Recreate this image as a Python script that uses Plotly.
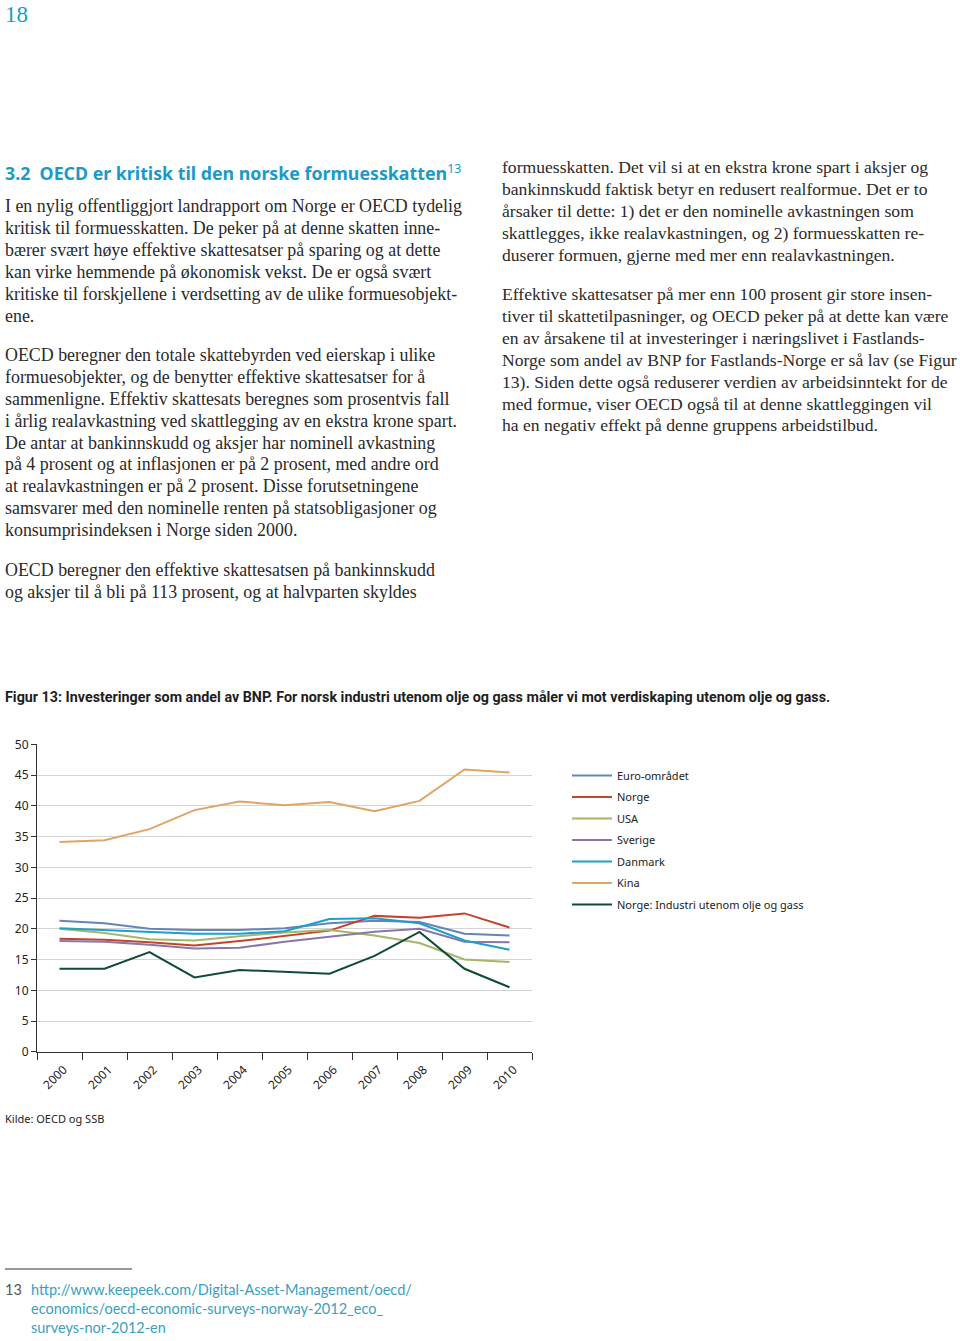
import plotly.graph_objects as go

W, H = 960, 1341

years = ["2000", "2001", "2002", "2003", "2004", "2005", "2006", "2007", "2008", "2009", "2010"]
euro = [21.3, 20.9, 20.0, 19.8, 19.8, 20.1, 20.9, 21.3, 21.1, 19.2, 18.9]
norge = [18.4, 18.2, 17.8, 17.3, 18.0, 18.9, 19.7, 22.1, 21.8, 22.5, 20.2]
usa = [20.0, 19.3, 18.3, 18.1, 18.8, 19.4, 19.8, 18.9, 17.7, 15.0, 14.6]
sverige = [18.0, 17.9, 17.4, 16.8, 16.9, 17.9, 18.7, 19.5, 20.0, 17.9, 17.8]
danmark = [20.1, 19.8, 19.5, 19.2, 19.2, 19.6, 21.6, 21.7, 20.9, 18.1, 16.6]
kina = [34.1, 34.4, 36.2, 39.3, 40.7, 40.1, 40.6, 39.1, 40.8, 45.9, 45.4]
norge_ind = [13.5, 13.5, 16.2, 12.1, 13.3, 13.0, 12.7, 15.6, 19.5, 13.5, 10.5]

series_names = ["Euro-området", "Norge", "USA", "Sverige", "Danmark", "Kina",
                "Norge: Industri utenom olje og gass"]
series_values = [euro, norge, usa, sverige, danmark, kina, norge_ind]
series_colors = ["#6485b6", "#c4432b", "#a5b66a", "#8a77a8", "#1d9fcb", "#e0a465", "#0f4d33"]

y_ticks = [0, 5, 10, 15, 20, 25, 30, 35, 40, 45, 50]


def px(x):
    return x / W


def py(y):
    return 1 - y / H


fig = go.Figure()
for name, vals, col in zip(series_names, series_values, series_colors):
    fig.add_trace(go.Scatter(x=years, y=vals, mode="lines", name=name,
                             legendgroup=name,
                             line=dict(color=col, width=2)))

chart_font = "Noto Sans"
fig.update_layout(
    width=W, height=H,
    margin=dict(l=0, r=0, t=0, b=0, pad=0, autoexpand=False),
    paper_bgcolor="white", plot_bgcolor="white",
    font=dict(family=chart_font, color="#222222", size=12),
    xaxis=dict(domain=[px(37), px(532)], type="category", tickson="boundaries",
               range=[-0.5, len(years) - 0.5],
               ticks="outside", ticklen=7, tickcolor="#333333", tickwidth=1.2,
               showline=True, linecolor="#333333", linewidth=1.2, automargin=False,
               showgrid=False, tickangle=-45, tickfont=dict(size=12),
               ticklabelshift=4, ticklabelstandoff=5),
    yaxis=dict(domain=[py(1051.8), py(744.3)], range=[0, 50], tickvals=y_ticks,
               ticks="outside", ticklen=5, tickcolor="#333333", automargin=False,
               showline=True, linecolor="#333333", linewidth=1.2,
               showgrid=True, gridcolor="#d4d4d4", gridwidth=1,
               zeroline=False, tickfont=dict(size=12)),
    legend=dict(x=px(567), y=py(761), xanchor="left", yanchor="top",
                font=dict(size=11, family=chart_font, color="#222222"),
                itemwidth=40, tracegroupgap=2.5, bgcolor="rgba(0,0,0,0)"),
    showlegend=True,
)

serif = "Liberation Serif"
body_size = 17.9
text_color = "#2a2a2a"
teal = "#1b9ac8"

annotations = []


def add_lines(lines, x0, y0, step=21.9, font=serif, size=body_size, color=text_color):
    for i, t in enumerate(lines):
        annotations.append(dict(text=t, x=px(x0), y=py(y0 + i * step), xref="paper", yref="paper",
                                xanchor="left", yanchor="middle", showarrow=False,
                                font=dict(family=font, size=size, color=color)))


left_p1 = [
    "I en nylig offentliggjort landrapport om Norge er OECD tydelig",
    "kritisk til formuesskatten. De peker på at denne skatten inne-",
    "bærer svært høye effektive skattesatser på sparing og at dette",
    "kan virke hemmende på økonomisk vekst. De er også svært",
    "kritiske til forskjellene i verdsetting av de ulike formuesobjekt-",
    "ene.",
]
left_p2 = [
    "OECD beregner den totale skattebyrden ved eierskap i ulike",
    "formuesobjekter, og de benytter effektive skattesatser for å",
    "sammenligne. Effektiv skattesats beregnes som prosentvis fall",
    "i årlig realavkastning ved skattlegging av en ekstra krone spart.",
    "De antar at bankinnskudd og aksjer har nominell avkastning",
    "på 4 prosent og at inflasjonen er på 2 prosent, med andre ord",
    "at realavkastningen er på 2 prosent. Disse forutsetningene",
    "samsvarer med den nominelle renten på statsobligasjoner og",
    "konsumprisindeksen i Norge siden 2000.",
]
left_p3 = [
    "OECD beregner den effektive skattesatsen på bankinnskudd",
    "og aksjer til å bli på 113 prosent, og at halvparten skyldes",
]
right_p1 = [
    "formuesskatten. Det vil si at en ekstra krone spart i aksjer og",
    "bankinnskudd faktisk betyr en redusert realformue. Det er to",
    "årsaker til dette: 1) det er den nominelle avkastningen som",
    "skattlegges, ikke realavkastningen, og 2) formuesskatten re-",
    "duserer formuen, gjerne med mer enn realavkastningen.",
]
right_p2 = [
    "Effektive skattesatser på mer enn 100 prosent gir store insen-",
    "tiver til skattetilpasninger, og OECD peker på at dette kan være",
    "en av årsakene til at investeringer i næringslivet i Fastlands-",
    "Norge som andel av BNP for Fastlands-Norge er så lav (se Figur",
    "13). Siden dette også reduserer verdien av arbeidsinntekt for de",
    "med formue, viser OECD også til at denne skattleggingen vil",
    "ha en negativ effekt på denne gruppens arbeidstilbud.",
]

add_lines(left_p1, 3, 206)
add_lines(left_p2, 3, 355)
add_lines(left_p3, 3, 570)
add_lines(right_p1, 500, 167, size=17.6)
add_lines(right_p2, 500, 294, size=17.6)

# page number
annotations.append(dict(text="18", x=px(3), y=py(15), xref="paper", yref="paper",
                        xanchor="left", yanchor="middle", showarrow=False,
                        font=dict(family=serif, size=23, color=teal)))
# heading
annotations.append(dict(text="<b>3.2  OECD er kritisk til den norske formuesskatten</b><sup>13</sup>",
                        x=px(3), y=py(172), xref="paper", yref="paper",
                        xanchor="left", yanchor="middle", showarrow=False,
                        font=dict(family="Noto Sans", size=17.8, color=teal)))
# figure caption
annotations.append(dict(text="<b>Figur 13: Investeringer som andel av BNP. For norsk industri utenom olje og gass måler vi mot verdiskaping utenom olje og gass.</b>",
                        x=px(3), y=py(697), xref="paper", yref="paper",
                        xanchor="left", yanchor="middle", showarrow=False,
                        font=dict(family="Roboto", size=14.3, color="#1e1e1e")))
# source
annotations.append(dict(text="Kilde: OECD og SSB", x=px(3), y=py(1118), xref="paper", yref="paper",
                        xanchor="left", yanchor="middle", showarrow=False,
                        font=dict(family=chart_font, size=11, color="#222222")))
# footnote
annotations.append(dict(text="13", x=px(3), y=py(1289), xref="paper", yref="paper",
                        xanchor="left", yanchor="middle", showarrow=False,
                        font=dict(family="Lato", size=14.5, color="#555555")))
add_lines(["http://www.keepeek.com/Digital-Asset-Management/oecd/",
           "economics/oecd-economic-surveys-norway-2012_eco_",
           "surveys-nor-2012-en"], 29, 1289, step=19, font="Lato", size=14.5, color="#3aa0c0")

fig.update_layout(annotations=annotations)
fig.add_shape(type="line", xref="paper", yref="paper", x0=px(5), x1=px(132),
              y0=py(1269), y1=py(1269), line=dict(color="#333333", width=1))

fig.write_html("out.html", config={"displayModeBar": False},
               post_script="document.body.style.margin='0px'; document.body.style.overflow='hidden';")
